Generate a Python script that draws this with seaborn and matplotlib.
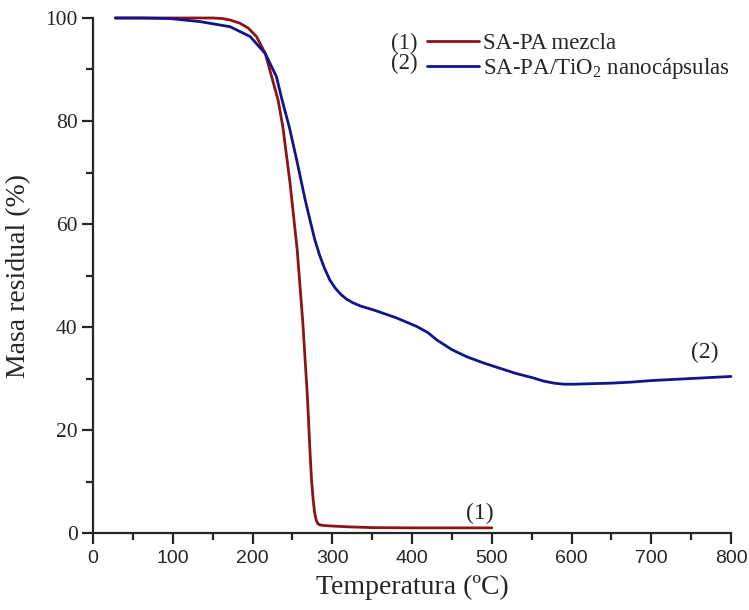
import matplotlib
matplotlib.use('Agg')
import matplotlib.pyplot as plt
from matplotlib.ticker import MultipleLocator
from matplotlib.lines import Line2D
import seaborn as sns
import pandas as pd

# SA-PA mezcla (1)
temp_1 = [28, 60, 100, 150, 162, 172, 184, 195, 205, 216, 224, 232, 238, 247, 256,
          263, 269, 272, 274, 276, 278, 280, 282, 285, 290, 300, 320, 350, 400, 450, 500]
masa_1 = [100, 100, 100, 100, 99.9, 99.6, 99.0, 98.0, 96.4, 93.1, 88.6, 84.1, 78.9, 68, 55,
          41, 26, 16, 10.3, 6.5, 3.8, 2.4, 1.8, 1.55, 1.45, 1.35, 1.2, 1.05, 1.0, 1.0, 1.0]

# SA-PA/TiO2 nanocapsulas (2)
temp_2 = [28, 60, 96, 134, 172, 197, 216, 230, 237, 246, 256, 266, 272, 278, 284,
          290, 297, 304, 311, 318, 326, 335, 352, 380, 406, 420, 431, 450, 469, 490,
          510, 530, 550, 565, 578, 590, 605, 625, 650, 675, 700, 750, 800]
masa_2 = [100, 100, 99.9, 99.3, 98.3, 96.4, 93.1, 88.6, 84.1, 78.9, 72, 64.7, 60.8,
          57, 54, 51.5, 49.1, 47.5, 46.3, 45.4, 44.7, 44.1, 43.3, 41.8, 40.1, 38.9,
          37.5, 35.6, 34.2, 33.0, 32.0, 31.0, 30.2, 29.5, 29.1, 28.9, 28.9, 29.0,
          29.1, 29.3, 29.6, 30.0, 30.4]

series_names = ["SA-PA mezcla", "SA-PA/TiO$_2$ nanocápsulas"]
series_tags = ["(1)", "(2)"]
colors = ["#8b1414", "#14148a"]

df = pd.concat([
    pd.DataFrame({"T": temp_1, "masa": masa_1, "serie": series_names[0]}),
    pd.DataFrame({"T": temp_2, "masa": masa_2, "serie": series_names[1]}),
])

sns.set_theme(style="ticks")
plt.rcParams['font.family'] = ['Liberation Serif', 'DejaVu Serif']
plt.rcParams['mathtext.fontset'] = 'custom'
plt.rcParams['mathtext.rm'] = 'Liberation Serif'
plt.rcParams['mathtext.it'] = 'Liberation Serif:italic'

fig = plt.figure(figsize=(7.49, 6.10), dpi=100)
ax = fig.add_axes([0.1242, 0.1262, 0.8518, 0.8443])

sns.lineplot(data=df, x="T", y="masa", hue="serie", palette=colors,
             estimator=None, linewidth=2.0, ax=ax, legend=False)
for ln in ax.lines:
    ln.set_clip_on(False)
    ln.set_solid_joinstyle("round")

ax.set_xlim(0, 800)
ax.set_ylim(0, 100)
ax.xaxis.set_major_locator(MultipleLocator(100))
ax.xaxis.set_minor_locator(MultipleLocator(50))
ax.yaxis.set_major_locator(MultipleLocator(20))
ax.yaxis.set_minor_locator(MultipleLocator(10))

sns.despine(ax=ax)
for s in ["left", "bottom"]:
    ax.spines[s].set_linewidth(1.6)
ax.tick_params(which="major", direction="out", length=8, width=1.6)
ax.tick_params(which="minor", direction="out", length=5, width=1.6)
ax.tick_params(axis="y", labelsize=15.5, pad=3)
ax.tick_params(axis="x", labelsize=14, pad=4)
for lab in ax.get_xticklabels():
    lab.set_family("Liberation Sans")

ax.set_xlabel("Temperatura (ºC)", fontsize=20, labelpad=6)
ax.set_ylabel("Masa residual (%)", fontsize=20, labelpad=10)

# legend with (1)/(2) tags to the left of the sample lines
handles = [Line2D([], [], color=c, linewidth=2.0) for c in colors]
leg = ax.legend(handles, series_names, loc="upper left",
                bbox_to_anchor=(0.5235, 0.970), frameon=False, fontsize=16.5,
                handlelength=2.25, handletextpad=0.2, borderpad=0,
                borderaxespad=0, labelspacing=0.06)
ax.text(0.509, 0.951, series_tags[0], transform=ax.transAxes,
        ha="right", va="center", fontsize=16.5)
ax.text(0.509, 0.911, series_tags[1], transform=ax.transAxes,
        ha="right", va="center", fontsize=16.5)

# curve tags
ax.text(485, 1.8, series_tags[0], ha="center", va="bottom", fontsize=17)
ax.text(767, 33, series_tags[1], ha="center", va="bottom", fontsize=17)

plt.savefig("out.png", dpi=100)
plt.close()
